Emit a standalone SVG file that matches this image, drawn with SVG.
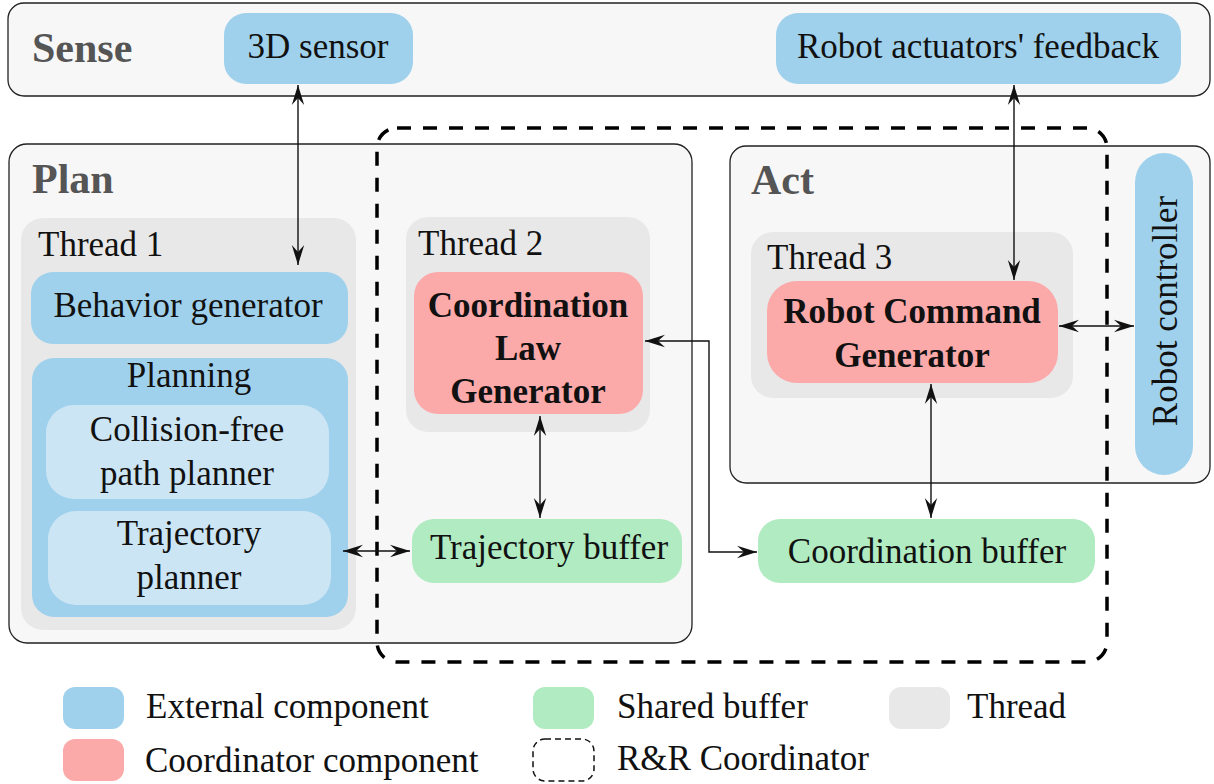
<svg xmlns="http://www.w3.org/2000/svg" width="1214" height="784" viewBox="0 0 1214 784">
  <style>
    .panel { fill: #f7f7f7; stroke: #222; stroke-width: 1.3; }
    .thread { fill: #e8e8e8; }
    .ext { fill: #a0d1ec; }
    .sub { fill: #cce5f4; }
    .coord { fill: #fca9aa; }
    .buf { fill: #b0ebc1; }
    .t { font-family: "Liberation Serif", "Times New Roman", serif; font-size: 35px; fill: #111; }
    .c { text-anchor: middle; }
    .b { font-weight: bold; }
    .title { font-family: "Liberation Serif", "Times New Roman", serif; font-size: 42px; font-weight: bold; fill: #555; }
    .link { fill: none; stroke: #111; stroke-width: 1.4; marker-start: url(#arrow); marker-end: url(#arrow); }
    .rr { fill: none; stroke: #000; stroke-width: 3.5; stroke-dasharray: 14 12; }
  </style>
  <defs>
    <marker id="arrow" markerUnits="userSpaceOnUse" markerWidth="22" markerHeight="14" refX="20" refY="7" orient="auto-start-reverse">
      <path d="M0,0.8 L20,7 L0,13.2 L7,7 Z" fill="#111"/>
    </marker>
  </defs>

  <rect width="1214" height="784" fill="#ffffff"/>

  <!-- Sense layer -->
  <g id="sense">
    <rect class="panel" x="8" y="3" width="1202" height="93" rx="16"/>
    <text class="title" x="32" y="62">Sense</text>
  </g>
  <g id="sensor3d">
    <rect class="ext" x="224" y="13" width="189" height="71" rx="22"/>
    <text class="t c" x="318" y="58">3D sensor</text>
  </g>
  <g id="feedback">
    <rect class="ext" x="776" y="13" width="405" height="71" rx="22"/>
    <text class="t c" x="978" y="58">Robot actuators' feedback</text>
  </g>

  <!-- Plan layer -->
  <g id="plan">
    <rect class="panel" x="9" y="144" width="683" height="499" rx="18"/>
    <text class="title" x="32" y="193">Plan</text>
  </g>
  <g id="thread1">
    <rect class="thread" x="21" y="218" width="335" height="412" rx="22"/>
    <text class="t" x="38" y="256">Thread 1</text>
  </g>
  <g id="behavior">
    <rect class="ext" x="31" y="272" width="317" height="72" rx="22"/>
    <text class="t c" x="188" y="317">Behavior generator</text>
  </g>
  <g id="planning">
    <rect class="ext" x="32" y="358" width="316" height="259" rx="22"/>
    <text class="t c" x="189" y="387">Planning</text>
  </g>
  <g id="pathplanner">
    <rect class="sub" x="46" y="405" width="283" height="94" rx="28"/>
    <text class="t c" x="187" y="441">Collision-free</text>
    <text class="t c" x="187" y="485">path planner</text>
  </g>
  <g id="trajplanner">
    <rect class="sub" x="48" y="511" width="283" height="94" rx="28"/>
    <text class="t c" x="189" y="545">Trajectory</text>
    <text class="t c" x="189" y="589">planner</text>
  </g>
  <g id="thread2">
    <rect class="thread" x="406" y="217" width="244" height="215" rx="22"/>
    <text class="t" x="418" y="255">Thread 2</text>
  </g>
  <g id="clg">
    <rect class="coord" x="414" y="272" width="229" height="142" rx="24"/>
    <text class="t c b" x="528" y="317">Coordination</text>
    <text class="t c b" x="528" y="360">Law</text>
    <text class="t c b" x="528" y="403">Generator</text>
  </g>
  <g id="trajbuffer">
    <rect class="buf" x="412" y="519" width="270" height="64" rx="22"/>
    <text class="t c" x="549" y="559">Trajectory buffer</text>
  </g>

  <!-- Act layer -->
  <g id="act">
    <rect class="panel" x="730" y="146" width="480" height="337" rx="16"/>
    <text class="title" x="751" y="194">Act</text>
  </g>
  <g id="thread3">
    <rect class="thread" x="751" y="232" width="322" height="166" rx="22"/>
    <text class="t" x="767" y="269">Thread 3</text>
  </g>
  <g id="rcg">
    <rect class="coord" x="767" y="281" width="291" height="102" rx="30"/>
    <text class="t c b" x="912" y="323">Robot Command</text>
    <text class="t c b" x="912" y="367">Generator</text>
  </g>
  <g id="controller">
    <rect class="ext" x="1135" y="153" width="58" height="322" rx="29"/>
    <text class="t c" transform="translate(1177 311) rotate(-90)">Robot controller</text>
  </g>
  <g id="coordbuffer">
    <rect class="buf" x="758" y="519" width="337" height="64" rx="22"/>
    <text class="t c" x="927" y="563">Coordination buffer</text>
  </g>

  <!-- R&R coordinator boundary -->
  <g id="rr-coordinator">
    <rect class="rr" x="377" y="128" width="730" height="534" rx="20"/>
  </g>

  <!-- Connectors -->
  <g id="connectors">
    <path class="link" d="M298,85 V265"/>
    <path class="link" d="M1014,85 V280"/>
    <path class="link" d="M343,551 H410"/>
    <path class="link" d="M540,416 V518"/>
    <path class="link" d="M931,384 V518"/>
    <path class="link" d="M1059,326 H1134"/>
    <path class="link" d="M645,341 H709 V552 H757"/>
  </g>

  <!-- Legend -->
  <g id="legend">
    <rect class="ext" x="63" y="687" width="61" height="42" rx="12"/>
    <text class="t" x="146" y="718">External component</text>
    <rect class="coord" x="63" y="739" width="61" height="42" rx="12"/>
    <text class="t" x="145" y="772">Coordinator component</text>
    <rect class="buf" x="533" y="687" width="61" height="42" rx="12"/>
    <text class="t" x="617" y="718">Shared buffer</text>
    <rect x="533" y="739" width="61" height="42" rx="12" fill="none" stroke="#111" stroke-width="1.5" stroke-dasharray="6 4"/>
    <text class="t" x="617" y="770">R&amp;R Coordinator</text>
    <rect class="thread" x="889" y="687" width="61" height="42" rx="12"/>
    <text class="t" x="967" y="718">Thread</text>
  </g>
</svg>
